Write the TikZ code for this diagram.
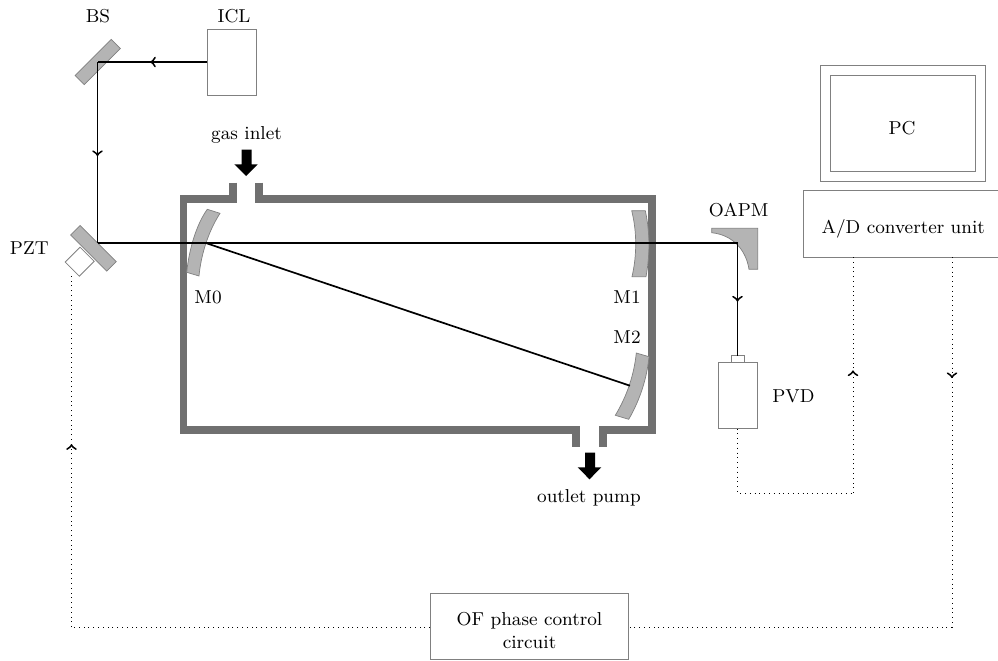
\documentclass[tikz,border=0pt]{standalone}
\usetikzlibrary{decorations.markings,arrows.meta}
\definecolor{wallc}{HTML}{707070}
\definecolor{mirrorc}{HTML}{B4B4B4}
\definecolor{edgec}{HTML}{808080}
\tikzset{
  x=0.5pt,y=-0.5pt,
  every node/.style={font=\fontsize{9.35}{11.2}\selectfont},
  box/.style={draw=edgec,line width=0.4pt,rectangle,inner sep=0pt,align=center},
  lbl/.style={inner sep=0pt,align=center},
  mirror/.style={draw=edgec,fill=mirrorc,line width=0.35pt},
  mirrorbox/.style={draw=edgec,fill=mirrorc,line width=0.35pt,rectangle,inner sep=0pt},
  wall/.style={draw=wallc,line width=3.6pt,miter limit=10},
  beam/.style={draw=black,line width=0.85pt},
  sig/.style={draw=black,line width=0.4pt,dotted},
  flowarrow/.style={fill=black,draw=none},
  tipat/.style={postaction={decorate},decoration={markings,mark=at position #1 with {\arrow[solid,line width=0.95pt]{to}}}},
}
\begin{document}
\begin{tikzpicture}
\clip (0,0) rectangle (998,660);

% chamber
\draw[wall] (233,182.5) -- (233,199) -- (183.5,199) -- (183.5,430) -- (576,430) -- (576,446.7);
\draw[wall] (259,182.5) -- (259,199) -- (652,199) -- (652,430) -- (603,430) -- (603,446.7);

% mirrors in the chamber
\path[mirror] (207.3,209.3) .. controls (196,225) and (189,250) .. (186.7,272.3) -- (199,276) .. controls (201,255) and (208,232) .. (220,213.3) -- cycle;
\path[mirror] (631.7,210.7) .. controls (637,232) and (637,255) .. (632,276.7) -- (646,276.7) .. controls (650,255) and (650,232) .. (645.3,210.7) -- cycle;
\path[mirror] (636.3,353) .. controls (634,375) and (627,396) .. (615.3,415.3) -- (628.7,419.3) .. controls (640,400) and (647,378) .. (649,356.7) -- cycle;

% OAPM
\path[mirror] (711.7,228.3) -- (757.7,228.3) -- (757.7,269.3) -- (749,269.3) .. controls (746,250) and (733,235) .. (711.7,232.7) -- cycle;

% boxes
\node[box,minimum width=24.5pt,minimum height=33pt] (icl) at (232,62.5) {};
\node[mirrorbox,rotate=45,minimum width=25.5pt,minimum height=6.5pt] (bs) at (97.7,62) {};
\node[box,fill=white,rotate=-45,minimum width=10pt,minimum height=10.5pt] (pztbox) at (79.7,261.7) {};
\node[mirrorbox,rotate=-45,minimum width=25.5pt,minimum height=6.7pt] (pzt) at (93.5,248.3) {};
\node[box,minimum width=6.7pt,minimum height=3.3pt] (pvdtop) at (738,359) {};
\node[box,minimum width=19.85pt,minimum height=33pt] (pvd) at (737.85,395.3) {};
\node[box,minimum width=82.5pt,minimum height=58pt] (pcout) at (902.8,123.3) {};
\node[box,minimum width=72.5pt,minimum height=48pt] (pcin) at (902.8,123.3) {};
\node[box,minimum width=99.85pt,minimum height=33.15pt] (adc) at (903.2,223.85) {};
\node[box,minimum width=99.15pt,minimum height=33pt] (ofc) at (529.15,626.3) {};

% beam
\coordinate (bsp) at (97.5,62);
\coordinate (pztp) at (97.5,243);
\coordinate (m0p) at (206.7,243.3);
\coordinate (m2p) at (630,385.7);
\coordinate (oapmp) at (737.5,243);
\coordinate (iclw) at (icl.west |- bsp);
\coordinate (pvdin) at (737.5,355.7);
\draw[beam,tipat=0.52] (iclw) -- (bsp);
\draw[beam,tipat=0.52] (bsp) -- (pztp);
\draw[beam] (pztp) -- (oapmp);
\draw[beam,tipat=0.52] (oapmp) -- (pvdin);
\draw[beam] (m0p) -- (m2p);

% signal lines
\coordinate (pzts) at (71.5,272);
\coordinate (pvds) at (737.5,428.5);
\coordinate (c1) at (737.5,493);
\coordinate (c2) at (853,493);
\coordinate (adc1) at (853,257.2);
\coordinate (adc2) at (952,257.2);
\coordinate (c3) at (952,627);
\coordinate (c4) at (71.5,627);
\coordinate (ofl) at (430,627);
\coordinate (ofr) at (628.3,627);
\draw[sig] (pvds) -- (c1) -- (c2);
\draw[sig,tipat=0.52] (c2) -- (adc1);
\draw[sig,tipat=0.327] (adc2) -- (c3);
\draw[sig] (c3) -- (ofr);
\draw[sig] (ofl) -- (c4);
\draw[sig,tipat=0.515] (c4) -- (pzts);

% flow arrows
\path[flowarrow] (241.7,149.7) -- (251.7,149.7) -- (251.7,164.3) -- (257.7,164.3) -- (246.2,176) -- (234.3,164.3) -- (241.7,164.3) -- cycle;
\path[flowarrow] (585,452.7) -- (595,452.7) -- (595,467.3) -- (601.3,467.3) -- (589.5,479.3) -- (577.7,467.3) -- (585,467.3) -- cycle;

% labels
\node[lbl] (lbs) at (98,16) {BS};
\node[lbl] (licl) at (234,16) {ICL};
\node[lbl] (lgas) at (246.5,135) {gas inlet};
\node[lbl] (lpzt) at (29.3,248.5) {PZT};
\node[lbl] (lm0) at (208,297.5) {M0};
\node[lbl] (lm1) at (627,297.5) {M1};
\node[lbl] (lm2) at (627,337.5) {M2};
\node[lbl] (loapm) at (738.7,210) {OAPM};
\node[lbl] (lpvd) at (793.5,396.5) {PVD};
\node[lbl] (lout) at (589,498) {outlet pump};
\node[lbl] (lpc) at (902,128) {PC};
\node[lbl] (ladc) at (903.3,228.5) {A/D converter unit};
\node[lbl] (lof) at (529.5,630.5) {OF phase control\\[0.3pt]circuit};
\end{tikzpicture}
\end{document}
